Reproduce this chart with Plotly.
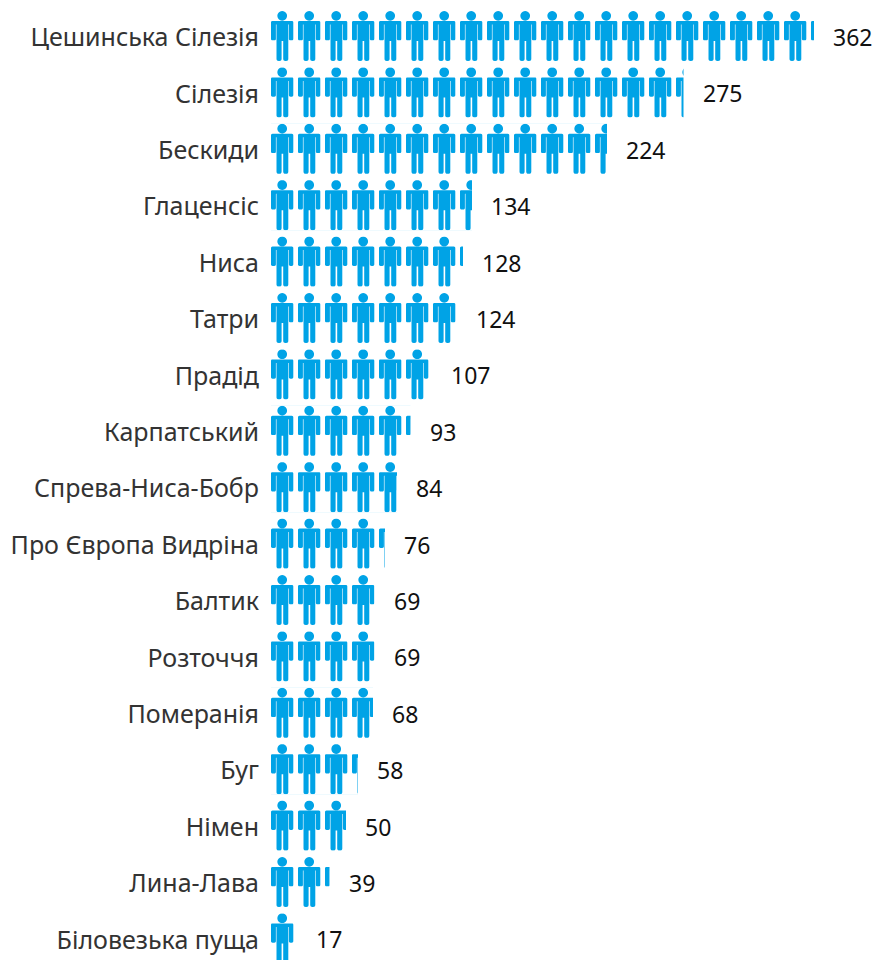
import math
import plotly.graph_objects as go

categories = ["Цешинська Сілезія", "Сілезія", "Бескиди", "Глаценсіс", "Ниса", "Татри", "Прадід",
              "Карпатський", "Спрева-Ниса-Бобр", "Про Європа Видріна", "Балтик", "Розточчя",
              "Померанія", "Буг", "Німен", "Лина-Лава", "Біловезька пуща"]
values = [362, 275, 224, 134, 128, 124, 107, 93, 84, 76, 69, 69, 68, 58, 50, 39, 17]

UNITS_PER_ICON = 18
PX_PER_UNIT = 1.5
ROW_PX = 56.4
ICON_H = 50.0
FIRST_ROW_CENTER = 36.0
LABEL_DROP_PX = 1.5
W, H, LEFT = 879, 960, 271
BLUE = "#00a3e6"
FONT = "Noto Sans"


def rounded(verts):
    """Polygon from (x, y, radius) vertices, corners rounded with short arcs."""
    out = []
    n = len(verts)
    for i in range(n):
        x, y, r = verts[i]
        if r == 0:
            out.append((x, y))
            continue
        px, py, _ = verts[i - 1]
        nx, ny, _ = verts[(i + 1) % n]
        a = math.hypot(px - x, py - y)
        b = math.hypot(nx - x, ny - y)
        ax, ay = (px - x) / a, (py - y) / a
        bx, by = (nx - x) / b, (ny - y) / b
        for k in range(5):
            t = k / 4
            u, v = (1 - t) ** 2, t ** 2
            out.append((x + r * (u * ax + v * bx), y + r * (u * ay + v * by)))
    return out


HEAD = [(11.2 + 4.85 * math.cos(2 * math.pi * k / 24), 4.85 + 4.85 * math.sin(2 * math.pi * k / 24))
        for k in range(24)]
BODY = rounded([
    (0, 10, 1.5), (22.3, 10, 1.5), (22.3, 29.3, 1.6), (17.9, 29.3, 1.6), (17.9, 13.5, 0),
    (17.3, 13.5, 0), (17.3, 50, 2.2), (12.2, 50, 2.2), (12.2, 30, 0), (10.6, 30, 0),
    (10.6, 50, 2.2), (5.5, 50, 2.2), (5.5, 13.5, 0), (4.9, 13.5, 0), (4.9, 29.3, 1.6),
    (0, 29.3, 1.6),
])


def stencil_path(row, value):
    """White row mask whose holes are person glyphs; the bar shows through them."""
    cy = row
    half = ICON_H / 2 / ROW_PX
    count = math.ceil(value / UNITS_PER_ICON)
    parts = [f"M-1,{cy - half - .01:.4f}L{count * UNITS_PER_ICON},{cy - half - .01:.4f}"
             f"L{count * UNITS_PER_ICON},{cy + half + .01:.4f}L-1,{cy + half + .01:.4f}Z"]
    for i in range(count):
        for poly in (HEAD, BODY):
            pts = [(i * UNITS_PER_ICON + x / PX_PER_UNIT, cy - half + y / ROW_PX) for x, y in poly]
            parts.append("M" + "L".join(f"{x:.3f},{y:.4f}" for x, y in pts) + "Z")
    return "".join(parts)


rows = list(range(len(categories)))
fig = go.Figure(go.Bar(
    x=values, y=rows, orientation="h",
    customdata=categories,
    marker=dict(color=BLUE, line=dict(width=0)),
    width=(ICON_H + 0.2) / ROW_PX,
    hovertemplate="%{customdata}: %{x}<extra></extra>",
))

for row, v in enumerate(values):
    fig.add_shape(type="path", path=stencil_path(row, v), xref="x", yref="y", layer="above",
                  fillcolor="white", fillrule="evenodd", line=dict(width=0))
    fig.add_annotation(x=v, y=row, text=str(v), showarrow=False, xanchor="left",
                       xshift=17, yshift=-1, font=dict(family=FONT, size=23, color="#111111"))

fig.update_layout(
    width=W, height=H, margin=dict(l=LEFT, r=0, t=0, b=0),
    paper_bgcolor="white", plot_bgcolor="white", showlegend=False,
    xaxis=dict(visible=False, range=[0, (W - LEFT) / PX_PER_UNIT], fixedrange=True),
    yaxis=dict(
        tickmode="array", tickvals=[r + LABEL_DROP_PX / ROW_PX for r in rows], ticktext=categories,
        range=[(H - FIRST_ROW_CENTER) / ROW_PX, -FIRST_ROW_CENTER / ROW_PX],
        showgrid=False, showline=False, zeroline=False, ticks="outside", ticklen=6,
        tickcolor="rgba(0,0,0,0)", fixedrange=True,
        tickfont=dict(family=FONT, size=25, color="#333333"),
    ),
)

fig.write_html("out.html", post_script="document.body.style.margin='0';", config=dict(displayModeBar=False))
